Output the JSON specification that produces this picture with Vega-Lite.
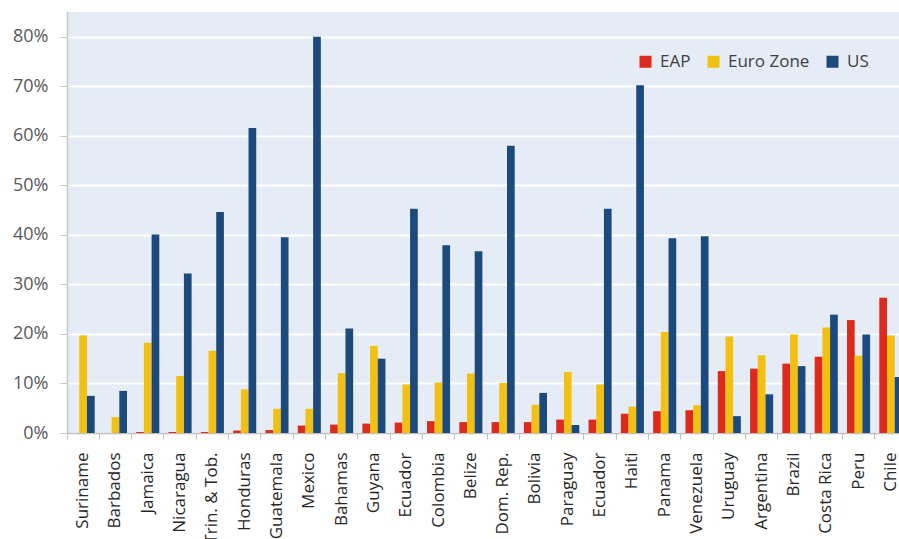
{
  "$schema": "https://vega.github.io/schema/vega-lite/v6.json",
  "width": 832,
  "height": 421,
  "autosize": {"type": "none"},
  "padding": {"left": 67, "top": 12, "right": 0, "bottom": 106},
  "background": "white",
  "data": {
    "values": [
      {"country": "Suriname", "series": "EAP", "value": 0.0},
      {"country": "Suriname", "series": "Euro Zone", "value": 0.197},
      {"country": "Suriname", "series": "US", "value": 0.075},
      {"country": "Barbados", "series": "EAP", "value": 0.0},
      {"country": "Barbados", "series": "Euro Zone", "value": 0.032},
      {"country": "Barbados", "series": "US", "value": 0.085},
      {"country": "Jamaica", "series": "EAP", "value": 0.002},
      {"country": "Jamaica", "series": "Euro Zone", "value": 0.182},
      {"country": "Jamaica", "series": "US", "value": 0.401},
      {"country": "Nicaragua", "series": "EAP", "value": 0.002},
      {"country": "Nicaragua", "series": "Euro Zone", "value": 0.115},
      {"country": "Nicaragua", "series": "US", "value": 0.322},
      {"country": "Trin. & Tob.", "series": "EAP", "value": 0.002},
      {"country": "Trin. & Tob.", "series": "Euro Zone", "value": 0.166},
      {"country": "Trin. & Tob.", "series": "US", "value": 0.446},
      {"country": "Honduras", "series": "EAP", "value": 0.005},
      {"country": "Honduras", "series": "Euro Zone", "value": 0.088},
      {"country": "Honduras", "series": "US", "value": 0.616},
      {"country": "Guatemala", "series": "EAP", "value": 0.006},
      {"country": "Guatemala", "series": "Euro Zone", "value": 0.049},
      {"country": "Guatemala", "series": "US", "value": 0.395},
      {"country": "Mexico", "series": "EAP", "value": 0.015},
      {"country": "Mexico", "series": "Euro Zone", "value": 0.049},
      {"country": "Mexico", "series": "US", "value": 0.8},
      {"country": "Bahamas", "series": "EAP", "value": 0.017},
      {"country": "Bahamas", "series": "Euro Zone", "value": 0.121},
      {"country": "Bahamas", "series": "US", "value": 0.211},
      {"country": "Guyana", "series": "EAP", "value": 0.019},
      {"country": "Guyana", "series": "Euro Zone", "value": 0.176},
      {"country": "Guyana", "series": "US", "value": 0.15},
      {"country": "Ecuador", "series": "EAP", "value": 0.021},
      {"country": "Ecuador", "series": "Euro Zone", "value": 0.098},
      {"country": "Ecuador", "series": "US", "value": 0.453},
      {"country": "Colombia", "series": "EAP", "value": 0.024},
      {"country": "Colombia", "series": "Euro Zone", "value": 0.102},
      {"country": "Colombia", "series": "US", "value": 0.379},
      {"country": "Belize", "series": "EAP", "value": 0.022},
      {"country": "Belize", "series": "Euro Zone", "value": 0.12},
      {"country": "Belize", "series": "US", "value": 0.367},
      {"country": "Dom. Rep.", "series": "EAP", "value": 0.022},
      {"country": "Dom. Rep.", "series": "Euro Zone", "value": 0.101},
      {"country": "Dom. Rep.", "series": "US", "value": 0.58},
      {"country": "Bolivia", "series": "EAP", "value": 0.022},
      {"country": "Bolivia", "series": "Euro Zone", "value": 0.057},
      {"country": "Bolivia", "series": "US", "value": 0.081},
      {"country": "Paraguay", "series": "EAP", "value": 0.027},
      {"country": "Paraguay", "series": "Euro Zone", "value": 0.123},
      {"country": "Paraguay", "series": "US", "value": 0.016},
      {"country": "Ecuador (2)", "series": "EAP", "value": 0.027},
      {"country": "Ecuador (2)", "series": "Euro Zone", "value": 0.098},
      {"country": "Ecuador (2)", "series": "US", "value": 0.453},
      {"country": "Haiti", "series": "EAP", "value": 0.039},
      {"country": "Haiti", "series": "Euro Zone", "value": 0.053},
      {"country": "Haiti", "series": "US", "value": 0.702},
      {"country": "Panama", "series": "EAP", "value": 0.044},
      {"country": "Panama", "series": "Euro Zone", "value": 0.204},
      {"country": "Panama", "series": "US", "value": 0.393},
      {"country": "Venezuela", "series": "EAP", "value": 0.046},
      {"country": "Venezuela", "series": "Euro Zone", "value": 0.056},
      {"country": "Venezuela", "series": "US", "value": 0.397},
      {"country": "Uruguay", "series": "EAP", "value": 0.125},
      {"country": "Uruguay", "series": "Euro Zone", "value": 0.195},
      {"country": "Uruguay", "series": "US", "value": 0.034},
      {"country": "Argentina", "series": "EAP", "value": 0.13},
      {"country": "Argentina", "series": "Euro Zone", "value": 0.157},
      {"country": "Argentina", "series": "US", "value": 0.078},
      {"country": "Brazil", "series": "EAP", "value": 0.14},
      {"country": "Brazil", "series": "Euro Zone", "value": 0.199},
      {"country": "Brazil", "series": "US", "value": 0.135},
      {"country": "Costa Rica", "series": "EAP", "value": 0.154},
      {"country": "Costa Rica", "series": "Euro Zone", "value": 0.213},
      {"country": "Costa Rica", "series": "US", "value": 0.239},
      {"country": "Peru", "series": "EAP", "value": 0.228},
      {"country": "Peru", "series": "Euro Zone", "value": 0.156},
      {"country": "Peru", "series": "US", "value": 0.199},
      {"country": "Chile", "series": "EAP", "value": 0.273},
      {"country": "Chile", "series": "Euro Zone", "value": 0.197},
      {"country": "Chile", "series": "US", "value": 0.113}
    ]
  },
  "mark": {"type": "bar"},
  "encoding": {
    "x": {
      "field": "country",
      "type": "nominal",
      "sort": ["Suriname", "Barbados", "Jamaica", "Nicaragua", "Trin. & Tob.", "Honduras", "Guatemala", "Mexico", "Bahamas", "Guyana", "Ecuador", "Colombia", "Belize", "Dom. Rep.", "Bolivia", "Paraguay", "Ecuador (2)", "Haiti", "Panama", "Venezuela", "Uruguay", "Argentina", "Brazil", "Costa Rica", "Peru", "Chile"],
      "scale": {"range": [0, 840], "paddingInner": 0, "paddingOuter": 0},
      "axis": {
        "title": null,
        "labelAngle": -90,
        "labelAlign": "right",
        "labelBaseline": "middle",
        "labelExpr": "replace(datum.label, ' (2)', '')",
        "labelFont": "Open Sans",
        "labelFontSize": 17,
        "labelColor": "#262626",
        "labelPadding": 13,
        "bandPosition": 0,
        "tickSize": 6,
        "tickColor": "#bfbfbf",
        "domainColor": "#bfbfbf",
        "domainWidth": 1.5,
        "labelOverlap": false
      }
    },
    "xOffset": {
      "field": "series",
      "type": "nominal",
      "sort": ["EAP", "Euro Zone", "US"],
      "scale": {"paddingInner": 0, "paddingOuter": 0.6}
    },
    "y": {
      "field": "value",
      "type": "quantitative",
      "scale": {"domain": [0, 0.85], "nice": false},
      "axis": {
        "title": null,
        "format": ".0%",
        "values": [0, 0.1, 0.2, 0.3, 0.4, 0.5, 0.6, 0.7, 0.8],
        "labelFont": "Open Sans",
        "labelFontSize": 18,
        "labelColor": "#595959",
        "labelPadding": 12,
        "tickSize": 7,
        "tickColor": "#c8c8c8",
        "domainColor": "#c8c8c8",
        "domainWidth": 1.5,
        "grid": true,
        "gridColor": "white",
        "gridWidth": 2
      }
    },
    "color": {
      "field": "series",
      "type": "nominal",
      "sort": ["EAP", "Euro Zone", "US"],
      "scale": {"domain": ["EAP", "Euro Zone", "US"], "range": ["#dc2a1c", "#f2c010", "#1d4a7c"]},
      "legend": {
        "title": null,
        "orient": "none",
        "direction": "horizontal",
        "legendX": 570,
        "legendY": 41,
        "symbolType": "square",
        "symbolSize": 144,
        "symbolStrokeWidth": 0,
        "labelFont": "Open Sans",
        "labelFontSize": 17,
        "labelColor": "#404040",
        "labelOffset": 6,
        "columnPadding": 14,
        "padding": 0
      }
    }
  },
  "config": {
    "view": {"fill": "#e5ecf6", "stroke": null}
  }
}
